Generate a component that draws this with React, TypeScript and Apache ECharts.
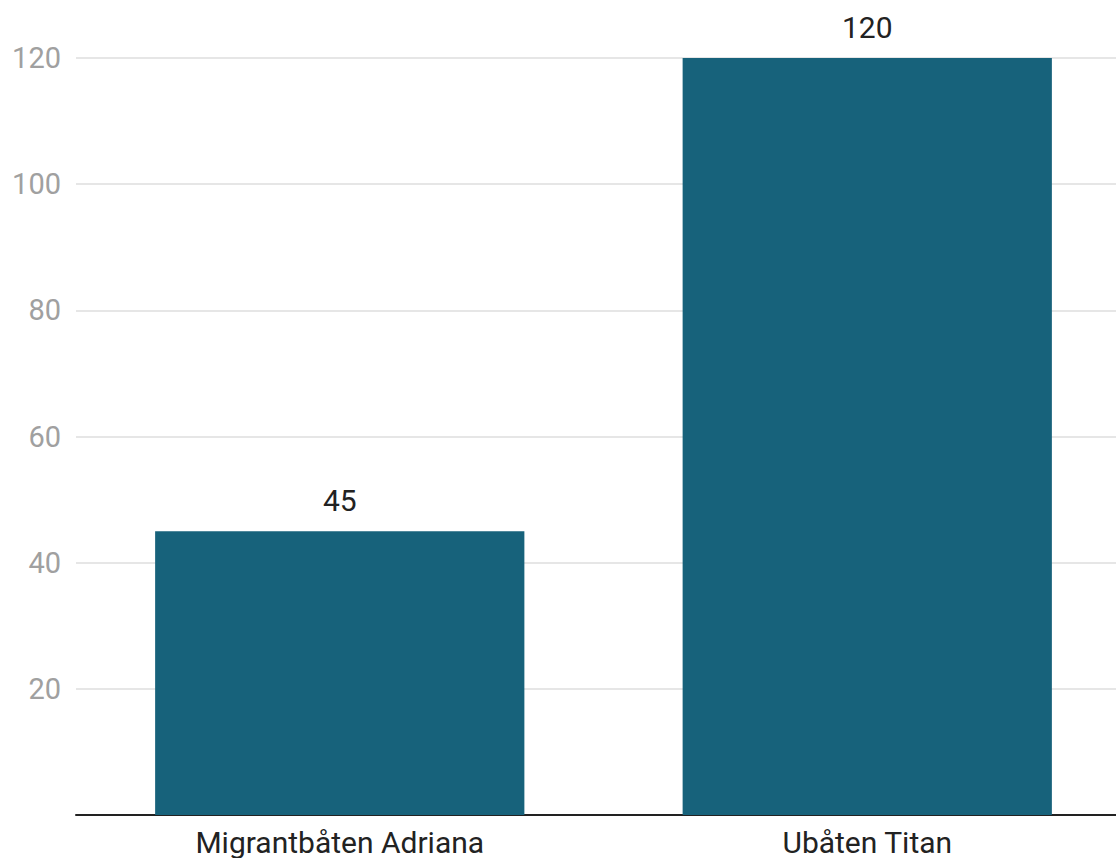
import React, { useEffect, useRef } from "react";
import * as echarts from "echarts";

const categories = ["Migrantbåten Adriana", "Ubåten Titan"];
const values = [45, 120];

export default function App() {
  const ref = useRef<HTMLDivElement>(null);
  useEffect(() => {
    if (!ref.current) return;
    const chart = echarts.init(ref.current, undefined, { renderer: "svg" });
    chart.setOption({
      animation: false,
      textStyle: { fontFamily: "Roboto" },
      grid: { left: 76, right: 0, top: 58, bottom: 43, containLabel: false },
      xAxis: {
        type: "category",
        data: categories,
        axisLine: { show: true, lineStyle: { color: "#222", width: 2 } },
        axisTick: { show: false },
        axisLabel: { color: "#222", fontSize: 30, margin: 12, fontFamily: "Roboto" },
      },
      yAxis: {
        type: "value",
        min: 0,
        max: 120,
        interval: 20,
        axisLine: { show: false },
        axisTick: { show: false },
        splitLine: { lineStyle: { color: "#e6e6e6", width: 2 } },
        axisLabel: {
          color: "#a0a0a0",
          fontSize: 29,
          margin: 15,
          fontFamily: "Roboto",
          formatter: (v: number) => (v === 0 ? "" : String(v)),
        },
      },
      series: [
        {
          type: "bar",
          data: values,
          barCategoryGap: "30%",
          itemStyle: { color: "#17627b" },
          label: {
            show: true,
            position: "top",
            distance: 16,
            color: "#222",
            fontSize: 30,
            fontFamily: "Roboto",
          },
        },
      ],
    });
    return () => chart.dispose();
  }, []);
  return (
    <div style={{ position: "fixed", left: 0, top: 0, width: 1116, height: 858, overflow: "hidden", background: "#fff" }}>
      <div ref={ref} style={{ width: 1131, height: 858 }} />
    </div>
  );
}
